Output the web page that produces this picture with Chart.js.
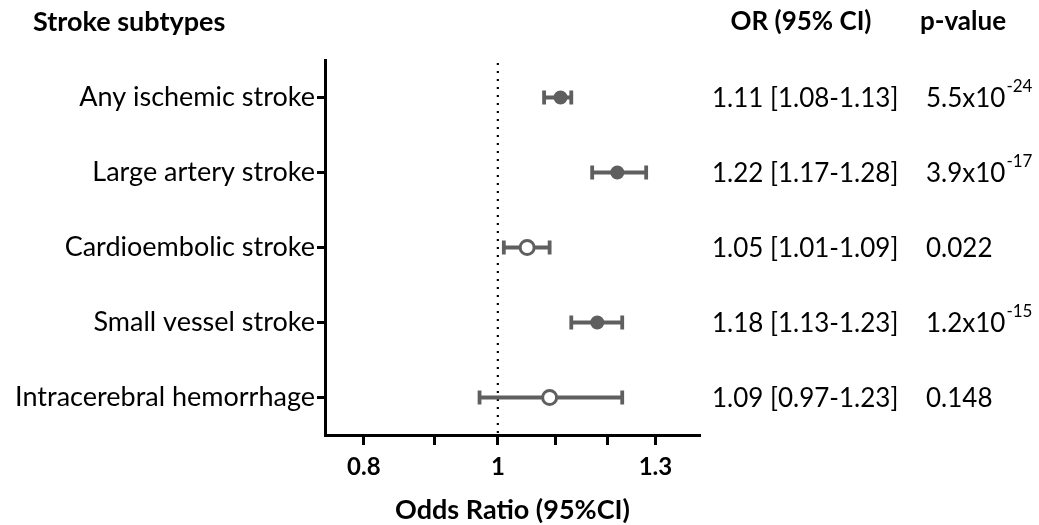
<!DOCTYPE html>
<html>
<head>
<meta charset="utf-8">
<script src="https://cdn.jsdelivr.net/npm/chart.js@4/dist/chart.umd.min.js"></script>
<style>
  html, body { margin: 0; padding: 0; background: #ffffff; }
  #wrap { position: relative; width: 1039px; height: 525px; }
</style>
</head>
<body>
<div id="wrap"><canvas id="c" width="1039" height="525"></canvas></div>
<script>
// ---- data ----
const categories = ['Any ischemic stroke', 'Large artery stroke', 'Cardioembolic stroke', 'Small vessel stroke', 'Intracerebral hemorrhage'];
const orValues = [1.11, 1.22, 1.05, 1.18, 1.09];
const ciLow = [1.08, 1.17, 1.01, 1.13, 0.97];
const ciHigh = [1.13, 1.28, 1.09, 1.23, 1.23];
const significant = [true, true, false, true, false];
const pBase = ['5.5x10', '3.9x10', '0.022', '1.2x10', '0.148'];
const pExp = ['-24', '-17', '', '-15', ''];
const xTickValues = [0.8, 0.9, 1, 1.1, 1.2, 1.3];
const xTickLabels = ['0.8', '', '1', '', '', '1.3'];

const GREY = '#5f5f5f';
const FONT = 'Lato, "Liberation Sans", sans-serif';

const forestPlugin = {
  id: 'forest',
  beforeDatasetsDraw(chart) {
    const { ctx, chartArea } = chart;
    const xs = chart.scales.x, ys = chart.scales.y;
    ctx.save();
    // reference line at OR = 1
    const x1 = xs.getPixelForValue(1);
    ctx.strokeStyle = '#000';
    ctx.lineWidth = 2.2;
    ctx.setLineDash([2, 6]);
    ctx.beginPath();
    ctx.moveTo(x1, chartArea.top + 3);
    ctx.lineTo(x1, chartArea.bottom);
    ctx.stroke();
    ctx.setLineDash([]);
    // error bars
    ctx.strokeStyle = GREY;
    ctx.lineWidth = 3.8;
    ctx.lineCap = 'butt';
    for (let i = 0; i < orValues.length; i++) {
      const y = ys.getPixelForValue(i);
      const a = xs.getPixelForValue(ciLow[i]);
      const b = xs.getPixelForValue(ciHigh[i]);
      ctx.beginPath();
      ctx.moveTo(a, y); ctx.lineTo(b, y);
      ctx.moveTo(a, y - 7); ctx.lineTo(a, y + 7);
      ctx.moveTo(b, y - 7); ctx.lineTo(b, y + 7);
      ctx.stroke();
    }
    ctx.restore();
  },
  afterDraw(chart) {
    const { ctx } = chart;
    const ys = chart.scales.y;
    ctx.save();
    ctx.fillStyle = '#000';
    ctx.textBaseline = 'middle';
    // headers
    ctx.font = 'bold 27px ' + FONT;
    ctx.textAlign = 'left';
    ctx.fillText('Stroke subtypes', 33, 22);
    ctx.font = 'bold 26px ' + FONT;
    ctx.textAlign = 'center';
    ctx.fillText('OR (95% CI)', 801, 22);
    ctx.fillText('p-value', 963, 22);
    // rows
    ctx.textAlign = 'left';
    for (let i = 0; i < orValues.length; i++) {
      const y = ys.getPixelForValue(i) + 1;
      ctx.font = '26px ' + FONT;
      const orText = orValues[i].toFixed(2) + ' [' + ciLow[i].toFixed(2) + '-' + ciHigh[i].toFixed(2) + ']';
      ctx.fillText(orText, 712, y);
      ctx.fillText(pBase[i], 926, y);
      if (pExp[i]) {
        const w = ctx.measureText(pBase[i]).width;
        ctx.font = '17px ' + FONT;
        ctx.fillText(pExp[i], 926 + w + 1, y - 12);
      }
    }
    ctx.restore();
  }
};

new Chart(document.getElementById('c'), {
  type: 'scatter',
  data: {
    datasets: [{
      data: orValues.map((v, i) => ({ x: v, y: i })),
      pointBackgroundColor: significant.map(s => s ? GREY : '#ffffff'),
      pointBorderColor: GREY,
      pointBorderWidth: 3,
      pointRadius: significant.map(s => s ? 5.5 : 7),
      pointHoverRadius: significant.map(s => s ? 5.5 : 7)
    }]
  },
  options: {
    responsive: false,
    animation: false,
    events: [],
    layout: { padding: { top: 60, right: 339, left: 0, bottom: 0 } },
    plugins: { legend: { display: false }, tooltip: { enabled: false } },
    scales: {
      x: {
        type: 'logarithmic',
        min: 0.75,
        max: 1.4,
        afterBuildTicks(scale) { scale.ticks = xTickValues.map(v => ({ value: v })); },
        afterFit(scale) { scale.height = 90; },
        ticks: {
          autoSkip: false,
          maxRotation: 0,
          color: '#000',
          padding: 8,
          font: { family: FONT, size: 24, weight: 'bold' },
          callback(value) {
            const idx = xTickValues.findIndex(t => Math.abs(t - value) < 1e-9);
            return idx >= 0 ? xTickLabels[idx] : '';
          }
        },
        grid: { display: true, drawOnChartArea: false, drawTicks: true, tickLength: 10, tickWidth: 3, tickColor: '#000' },
        border: { display: true, color: '#000', width: 3 },
        title: {
          display: true,
          text: 'Odds Ratio (95%CI)',
          color: '#000',
          font: { family: FONT, size: 27, weight: 'bold', lineHeight: 1.1 },
          padding: { top: 8, bottom: 0 }
        }
      },
      y: {
        type: 'linear',
        reverse: true,
        min: -0.5,
        max: 4.5,
        afterBuildTicks(scale) { scale.ticks = categories.map((c, i) => ({ value: i })); },
        afterFit(scale) { scale.width = 325; },
        ticks: {
          autoSkip: false,
          color: '#000',
          padding: 2,
          font: { family: FONT, size: 27 },
          callback(value) { return categories[value] !== undefined ? categories[value] : ''; }
        },
        grid: { display: true, drawOnChartArea: false, drawTicks: true, tickLength: 8, tickWidth: 3, tickColor: '#000' },
        border: { display: true, color: '#000', width: 3 }
      }
    }
  },
  plugins: [forestPlugin]
});
</script>
</body>
</html>
